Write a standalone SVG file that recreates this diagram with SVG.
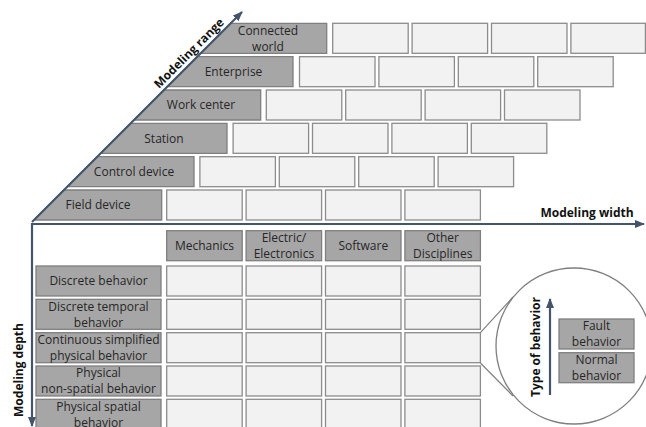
<svg xmlns="http://www.w3.org/2000/svg" width="646" height="427" viewBox="0 0 646 427">
<style>
.g{fill:#a6a6a6;stroke:#7f7f7f;stroke-width:1.3}
.l{fill:#f2f2f2;stroke:#8c8c8c;stroke-width:1.3}
.t{font-family:"Open Sans","Liberation Sans",sans-serif;font-size:12px;fill:#262626;text-anchor:middle}
.b{font-family:"Open Sans","Liberation Sans",sans-serif;font-size:12px;font-weight:bold;fill:#111;text-anchor:middle}
.ax{stroke:#44546a;stroke-width:2.2;fill:none}
</style>
<defs>
<marker id="ah" markerWidth="10" markerHeight="8" refX="9" refY="4" orient="auto" markerUnits="userSpaceOnUse">
<path d="M0,0 L10,4 L0,8 Z" fill="#44546a"/>
</marker>
</defs>
<rect width="646" height="427" fill="#fff"/>

<!-- pyramid rows -->
<g id="connected-world">
<polygon class="g" points="230.7,23.3 326.7,23.3 326.7,53.3 200.7,53.3"/>
<text class="t" x="268" y="34.6">Connected</text>
<text class="t" x="268" y="50.6">world</text>
</g>
<g id="enterprise">
<polygon class="g" points="197.3,56.7 293,56.7 293,86.7 167.3,86.7"/>
<text class="t" x="233.5" y="76">Enterprise</text>
</g>
<g id="work-center">
<polygon class="g" points="164,90 260.7,90 260.7,120 134,120"/>
<text class="t" x="201" y="109.3">Work center</text>
</g>
<g id="station">
<polygon class="g" points="130.7,123.3 227,123.3 227,153.3 100.7,153.3"/>
<text class="t" x="164" y="142.6">Station</text>
</g>
<g id="control-device">
<polygon class="g" points="97.3,156.7 194,156.7 194,186.7 67.3,186.7"/>
<text class="t" x="134" y="176">Control device</text>
</g>
<g id="field-device">
<polygon class="g" points="64,190 161.7,190 161.7,220 34,220"/>
<text class="t" x="98" y="209.3">Field device</text>
</g>

<g id="range-cells">
<rect class="l" x="332.7" y="23.3" width="75.5" height="30"/>
<rect class="l" x="412.1" y="23.3" width="75.5" height="30"/>
<rect class="l" x="491.5" y="23.3" width="75.5" height="30"/>
<rect class="l" x="570.9" y="23.3" width="74.5" height="30"/>
<rect class="l" x="299.5" y="56.7" width="75.5" height="30"/>
<rect class="l" x="378.9" y="56.7" width="75.5" height="30"/>
<rect class="l" x="458.3" y="56.7" width="75.5" height="30"/>
<rect class="l" x="537.7" y="56.7" width="75.5" height="30"/>
<rect class="l" x="266.3" y="90" width="75.5" height="30"/>
<rect class="l" x="345.7" y="90" width="75.5" height="30"/>
<rect class="l" x="425.1" y="90" width="75.5" height="30"/>
<rect class="l" x="504.5" y="90" width="75.5" height="30"/>
<rect class="l" x="233.1" y="123.3" width="75.5" height="30"/>
<rect class="l" x="312.5" y="123.3" width="75.5" height="30"/>
<rect class="l" x="391.9" y="123.3" width="75.5" height="30"/>
<rect class="l" x="471.3" y="123.3" width="75.5" height="30"/>
<rect class="l" x="199.9" y="156.7" width="75.5" height="30"/>
<rect class="l" x="279.3" y="156.7" width="75.5" height="30"/>
<rect class="l" x="358.7" y="156.7" width="75.5" height="30"/>
<rect class="l" x="438.1" y="156.7" width="75.5" height="30"/>
<rect class="l" x="166.7" y="190" width="75.5" height="30"/>
<rect class="l" x="246.1" y="190" width="75.5" height="30"/>
<rect class="l" x="325.5" y="190" width="75.5" height="30"/>
<rect class="l" x="404.9" y="190" width="75.5" height="30"/>
</g>

<!-- table header -->
<g id="mechanics">
<rect class="g" x="166.7" y="230.7" width="75.5" height="30"/>
<text class="t" x="204.5" y="250">Mechanics</text>
</g>
<g id="electric">
<rect class="g" x="246.1" y="230.7" width="75.5" height="30"/>
<text class="t" x="283.9" y="242">Electric/</text>
<text class="t" x="283.9" y="258">Electronics</text>
</g>
<g id="software">
<rect class="g" x="325.5" y="230.7" width="75.5" height="30"/>
<text class="t" x="363.3" y="250">Software</text>
</g>
<g id="other">
<rect class="g" x="404.9" y="230.7" width="75.5" height="30"/>
<text class="t" x="442.7" y="242">Other</text>
<text class="t" x="442.7" y="258">Disciplines</text>
</g>

<!-- row labels -->
<g id="discrete">
<rect class="g" x="36" y="266" width="125" height="30"/>
<text class="t" x="98.5" y="285.3">Discrete behavior</text>
</g>
<g id="discrete-temporal">
<rect class="g" x="36" y="299.3" width="125" height="30"/>
<text class="t" x="98.5" y="310.6">Discrete temporal</text>
<text class="t" x="98.5" y="326.6">behavior</text>
</g>
<g id="continuous">
<rect class="g" x="36" y="332.7" width="125" height="30"/>
<text class="t" x="98.5" y="344">Continuous simplified</text>
<text class="t" x="98.5" y="360">physical behavior</text>
</g>
<g id="non-spatial">
<rect class="g" x="36" y="366" width="125" height="30"/>
<text class="t" x="98.5" y="377.3">Physical</text>
<text class="t" x="98.5" y="393.3">non-spatial behavior</text>
</g>
<g id="spatial">
<rect class="g" x="36" y="399.3" width="125" height="30"/>
<text class="t" x="98.5" y="410.6">Physical spatial</text>
<text class="t" x="98.5" y="426.6">behavior</text>
</g>

<g id="table-cells">
<rect class="l" x="166.7" y="266" width="75.5" height="30"/>
<rect class="l" x="246.1" y="266" width="75.5" height="30"/>
<rect class="l" x="325.5" y="266" width="75.5" height="30"/>
<rect class="l" x="404.9" y="266" width="75.5" height="30"/>
<rect class="l" x="166.7" y="299.3" width="75.5" height="30"/>
<rect class="l" x="246.1" y="299.3" width="75.5" height="30"/>
<rect class="l" x="325.5" y="299.3" width="75.5" height="30"/>
<rect class="l" x="404.9" y="299.3" width="75.5" height="30"/>
<rect class="l" x="166.7" y="332.7" width="75.5" height="30"/>
<rect class="l" x="246.1" y="332.7" width="75.5" height="30"/>
<rect class="l" x="325.5" y="332.7" width="75.5" height="30"/>
<rect class="l" x="404.9" y="332.7" width="75.5" height="30"/>
<rect class="l" x="166.7" y="366" width="75.5" height="30"/>
<rect class="l" x="246.1" y="366" width="75.5" height="30"/>
<rect class="l" x="325.5" y="366" width="75.5" height="30"/>
<rect class="l" x="404.9" y="366" width="75.5" height="30"/>
<rect class="l" x="166.7" y="399.3" width="75.5" height="30"/>
<rect class="l" x="246.1" y="399.3" width="75.5" height="30"/>
<rect class="l" x="325.5" y="399.3" width="75.5" height="30"/>
<rect class="l" x="404.9" y="399.3" width="75.5" height="30"/>
</g>

<!-- zoom circle -->
<g id="zoom-circle">
<line x1="480.4" y1="332.7" x2="513" y2="297" stroke="#7f7f7f" stroke-width="1.2"/>
<line x1="480.4" y1="363" x2="513" y2="396" stroke="#7f7f7f" stroke-width="1.2"/>
<circle cx="574" cy="346" r="78" fill="#fff" stroke="#7f7f7f" stroke-width="1.3"/>
</g>
<g id="fault">
<rect class="g" x="559" y="319" width="75" height="30"/>
<text class="t" x="596.5" y="330.3">Fault</text>
<text class="t" x="596.5" y="346.3">behavior</text>
</g>
<g id="normal">
<rect class="g" x="559" y="352.7" width="75" height="30"/>
<text class="t" x="596.5" y="364">Normal</text>
<text class="t" x="596.5" y="380">behavior</text>
</g>

<!-- connectors / axes -->
<g id="connectors">
<line class="ax" x1="32" y1="222" x2="242" y2="12" marker-end="url(#ah)"/>
<line class="ax" x1="31" y1="224" x2="644" y2="224" marker-end="url(#ah)"/>
<line class="ax" x1="32" y1="223" x2="32" y2="426" marker-end="url(#ah)"/>
<line class="ax" x1="550" y1="395" x2="550" y2="299" marker-end="url(#ah)"/>
</g>

<g id="axis-labels">
<text class="b" transform="translate(192,56) rotate(-45)">Modeling range</text>
<text class="b" x="587" y="217">Modeling width</text>
<text class="b" transform="translate(23,370) rotate(-90)">Modeling depth</text>
<text class="b" transform="translate(540,347) rotate(-90)">Type of behavior</text>
</g>
</svg>
